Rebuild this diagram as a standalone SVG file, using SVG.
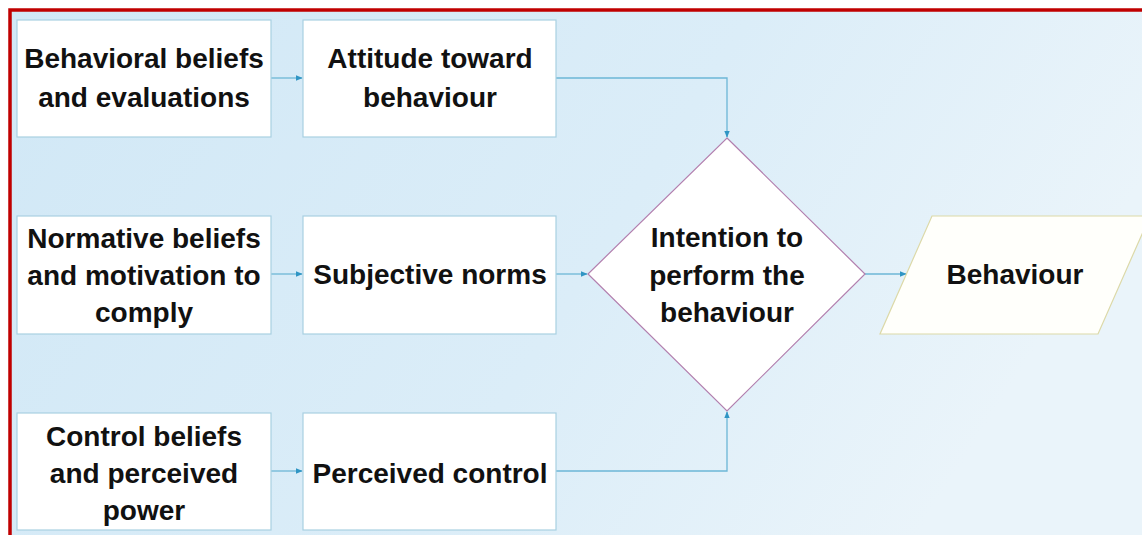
<svg xmlns="http://www.w3.org/2000/svg" width="1142" height="535" viewBox="0 0 1142 535">
<defs>
<linearGradient id="bg" x1="0" y1="0" x2="1" y2="0.3">
<stop offset="0" stop-color="#d1e8f6"/>
<stop offset="0.6" stop-color="#dbedf8"/>
<stop offset="1" stop-color="#eaf4fa"/>
</linearGradient>
<marker id="arr" viewBox="0 0 10 10" refX="9" refY="5" markerWidth="7" markerHeight="7" markerUnits="userSpaceOnUse" orient="auto">
<path d="M0,1 L10,5 L0,9 Z" fill="#2f95c4"/>
</marker>
<style>
.box{fill:#ffffff;stroke:#a9d0e2;stroke-width:1.2}
.t{font-family:"Liberation Sans",Arial,sans-serif;font-weight:bold;font-size:28px;fill:#111;text-anchor:middle}
.c{fill:none;stroke:#6cb6d6;stroke-width:1.3}
</style>
</defs>
<rect x="0" y="0" width="1142" height="535" fill="#ffffff"/>
<rect x="10" y="10" width="1140" height="535" fill="url(#bg)" stroke="#c00000" stroke-width="3.5"/>

<g id="connectors">
<path class="c" d="M271,78 H302" marker-end="url(#arr)"/>
<path class="c" d="M556,78 H727 V137" marker-end="url(#arr)"/>
<path class="c" d="M271,274 H302" marker-end="url(#arr)"/>
<path class="c" d="M556,274 H587" marker-end="url(#arr)"/>
<path class="c" d="M865,274 H906" marker-end="url(#arr)"/>
<path class="c" d="M271,471 H302" marker-end="url(#arr)"/>
<path class="c" d="M556,471 H727 V412" marker-end="url(#arr)"/>
</g>

<g id="behavioral-beliefs">
<rect class="box" x="17" y="20" width="254" height="117"/>
<text class="t" x="144" y="68">Behavioral beliefs</text>
<text class="t" x="144" y="107">and evaluations</text>
</g>
<g id="attitude">
<rect class="box" x="303" y="20" width="253" height="117"/>
<text class="t" x="430" y="68">Attitude toward</text>
<text class="t" x="430" y="107">behaviour</text>
</g>
<g id="normative-beliefs">
<rect class="box" x="17" y="216" width="254" height="118"/>
<text class="t" x="144" y="248">Normative beliefs</text>
<text class="t" x="144" y="285">and motivation to</text>
<text class="t" x="144" y="322">comply</text>
</g>
<g id="subjective-norms">
<rect class="box" x="303" y="216" width="253" height="118"/>
<text class="t" x="430" y="284">Subjective norms</text>
</g>
<g id="control-beliefs">
<rect class="box" x="17" y="413" width="254" height="117"/>
<text class="t" x="144" y="446">Control beliefs</text>
<text class="t" x="144" y="483">and perceived</text>
<text class="t" x="144" y="520">power</text>
</g>
<g id="perceived-control">
<rect class="box" x="303" y="413" width="253" height="117"/>
<text class="t" x="430" y="483">Perceived control</text>
</g>
<g id="intention">
<polygon points="727,138 865,274 727,411 588,274" fill="#ffffff" stroke="#b27fae" stroke-width="1.2"/>
<text class="t" x="727" y="247">Intention to</text>
<text class="t" x="727" y="285">perform the</text>
<text class="t" x="727" y="322">behaviour</text>
</g>
<g id="behaviour">
<polygon points="932,216 1150,216 1098,334 880,334" fill="#fffffb" stroke="#dcd9a8" stroke-width="1.2"/>
<text class="t" x="1015" y="284">Behaviour</text>
</g>
</svg>
